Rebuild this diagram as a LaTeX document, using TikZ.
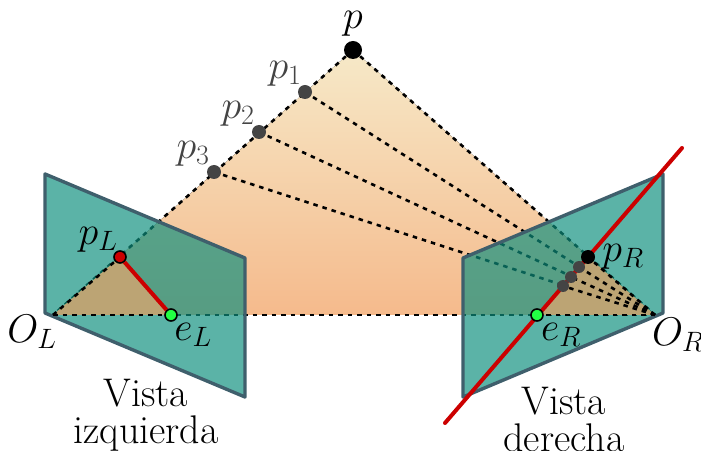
\documentclass[tikz,border=0pt]{standalone}
\usepackage{fix-cm}
\usetikzlibrary{calc}
\newcommand{\Unit}{1pt}
\newcommand{\Edge}{3.4pt}
\newcommand{\Dots}{2.6pt}
\definecolor{sand}{HTML}{F6E9C8}
\definecolor{peach}{HTML}{F5BA8C}
\definecolor{plane}{HTML}{0D8F7E}
\definecolor{rim}{HTML}{3F5F6C}
\definecolor{tan}{HTML}{BCA474}
\definecolor{soft}{HTML}{444444}
\definecolor{epired}{HTML}{CC0000}
\definecolor{epigreen}{HTML}{22FF44}
\tikzset{
  ray/.style={black,line width=\Dots,dash pattern=on 4.5pt off 5pt},
  spot/.style={circle,fill=#1,inner sep=0pt},
  big/.style={spot=black,minimum size=18pt},
  mid/.style={spot=soft,minimum size=14pt},
  small/.style={spot=soft,minimum size=12pt},
  ring/.style={spot=#1,draw=black,line width=1.6pt,minimum size=12pt},
  lbl/.style={font=\fontsize{40}{37}\selectfont,inner sep=0pt,align=center}
}

\begin{document}
\begin{tikzpicture}[x=\Unit,y=\Unit, line join=round]
  \useasboundingbox (0,0) rectangle (701,450);

  % ---- the fixed points ---------------------------------------------------
  \coordinate (OL) at (53,135);
  \coordinate (OR) at (655,135);
  \coordinate (apex) at (353,400);
  \coordinate (lineA) at (445,27);
  \coordinate (lineB) at (682,302);

  % ---- the plane through the three points, behind the views ---------------
  \fill[top color=sand,bottom color=peach] (OL) -- (apex) -- (OR) -- cycle;
  \draw[ray] (apex) -- (OL);
  \draw[ray] (apex) -- (OR);
  \draw[ray] (OL) -- (OR);
  \foreach \i/\x/\y in {1/305/358,2/259/318,3/214/278} {
    \coordinate (c\i) at (\x,\y);
    \draw[ray] (c\i) -- (OR);
    \node[mid] (p\i) at (c\i) {};
  }
  \node[big] (p) at (apex) {};

  % ---- the two views, see-through -----------------------------------------
  \fill[plane,fill opacity=0.68] (45,276) -- (245,192) -- (245,53) -- (45,137) -- cycle;
  \fill[plane,fill opacity=0.68] (463,192) -- (663,276) -- (663,137) -- (463,53) -- cycle;
  \draw[rim,line width=\Edge] (45,276) -- (245,192) -- (245,53) -- (45,137) -- cycle;
  \draw[rim,line width=\Edge] (463,192) -- (663,276) -- (663,137) -- (463,53) -- cycle;

  % ---- what falls on the left view ----------------------------------------
  \coordinate (pLc) at (120,193);
  \coordinate (eLc) at (171,135);
  \fill[tan] (OL) -- (pLc) -- (eLc) -- cycle;
  \draw[ray] (OL) -- (pLc);
  \draw[ray] (OL) -- (eLc);
  \node[ring=epired] (pL) at (pLc) {};
  \node[ring=epigreen] (eL) at (eLc) {};
  \draw[epired,line width=4pt] (pL) -- (eL);

  % ---- what falls on the right view ---------------------------------------
  \coordinate (pRc) at (588,193);
  \coordinate (eRc) at (537,135);
  \fill[tan] (OR) -- (pRc) -- (eRc) -- cycle;
  \draw[ray] (OR) -- (pRc);
  \draw[ray] (OR) -- (eRc);
  \foreach \i/\x/\y in {1/579/183,2/571/173,3/563/164} {
    \coordinate (q\i) at (\x,\y);
    \draw[ray] (OR) -- (q\i);
  }
  \draw[epired,line width=4pt,line cap=round] (lineA) -- (lineB);
  \foreach \i in {1,2,3} {
    \node[small] (r\i) at (q\i) {};
  }
  \node[spot=black,minimum size=14pt] (pR) at (pRc) {};
  \node[ring=epigreen] (eR) at (eRc) {};

  % ---- the labels ---------------------------------------------------------
  \node[lbl] (tp) at (353,426) {$p$};
  \node[lbl,text=soft] (tp1) at (285,376) {$p_1$};
  \node[lbl,text=soft] (tp2) at (238,336) {$p_2$};
  \node[lbl,text=soft] (tp3) at (193,296) {$p_3$};
  \node[lbl] (tpL) at (98,210) {$p_L$};
  \node[lbl] (teL) at (193,115) {$e_L$};
  \node[lbl] (tOL) at (32,118) {$O_L$};
  \node[lbl] (tpR) at (623,193) {$p_R$};
  \node[lbl] (teR) at (561,115) {$e_R$};
  \node[lbl] (tOR) at (678,115) {$O_R$};
  \node[lbl] (tleft) at (146,35) {Vista\\izquierda};
  \node[lbl] (tright) at (564,31) {Vista\\derecha};

\end{tikzpicture}
\end{document}
